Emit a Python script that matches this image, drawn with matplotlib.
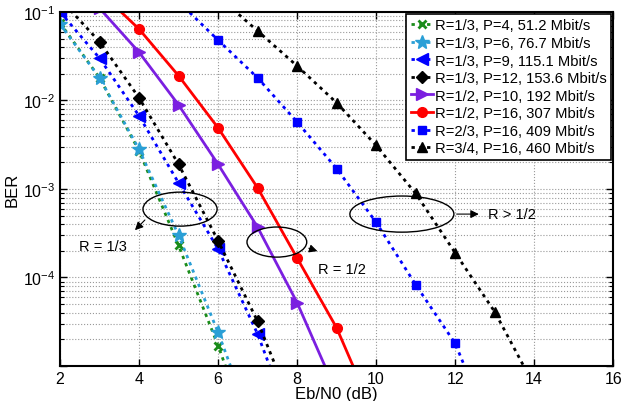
import matplotlib
matplotlib.use('Agg')
import matplotlib.pyplot as plt
from matplotlib.patches import Ellipse
from matplotlib.ticker import LogLocator, NullFormatter, FixedFormatter

plt.rcParams['font.family'] = ['Liberation Sans', 'DejaVu Sans']
plt.rcParams['mathtext.fontset'] = 'custom'
plt.rcParams['mathtext.rm'] = 'Liberation Sans'

# Eb/N0 (dB) and BER for every curve
x_p4 = [2, 3, 4, 5, 6, 7]
ber_p4 = [7.5e-2, 1.8e-2, 2.7e-3, 2.3e-4, 1.7e-5, 1.0e-6]
x_p6 = [2, 3, 4, 5, 6, 7]
ber_p6 = [7.3e-2, 1.8e-2, 2.8e-3, 3.0e-4, 2.4e-5, 1.5e-6]
x_p9 = [2, 3, 4, 5, 6, 7, 8]
ber_p9 = [1.0e-1, 3.0e-2, 6.7e-3, 1.17e-3, 2.1e-4, 2.3e-5, 1.5e-6]
x_p12 = [2, 3, 4, 5, 6, 7, 8]
ber_p12 = [1.4e-1, 4.6e-2, 1.07e-2, 1.9e-3, 2.6e-4, 3.2e-5, 2.5e-6]
x_p10 = [3, 4, 5, 6, 7, 8, 9]
ber_p10 = [1.1e-1, 3.5e-2, 8.9e-3, 1.9e-3, 3.7e-4, 5.2e-5, 5.0e-6]
x_p16a = [3, 4, 5, 6, 7, 8, 9, 10]
ber_p16a = [1.7e-1, 6.4e-2, 1.9e-2, 4.9e-3, 1.03e-3, 1.66e-4, 2.7e-5, 2.5e-6]
x_p16b = [5, 6, 7, 8, 9, 10, 11, 12, 13]
ber_p16b = [1.3e-1, 4.8e-2, 1.8e-2, 5.7e-3, 1.7e-3, 4.2e-4, 8.3e-5, 1.8e-5, 1.5e-6]
x_p16c = [6, 7, 8, 9, 10, 11, 12, 13, 14]
ber_p16c = [1.5e-1, 6.1e-2, 2.45e-2, 9.4e-3, 3.1e-3, 8.9e-4, 1.9e-4, 4.1e-5, 6.0e-6]

labels = ['R=1/3, P=4, 51.2 Mbit/s', 'R=1/3, P=6, 76.7 Mbit/s',
          'R=1/3, P=9, 115.1 Mbit/s', 'R=1/3, P=12, 153.6 Mbit/s',
          'R=1/2, P=10, 192 Mbit/s', 'R=1/2, P=16, 307 Mbit/s',
          'R=2/3, P=16, 409 Mbit/s', 'R=3/4, P=16, 460 Mbit/s']

fig = plt.figure(figsize=(6.23, 4.02), dpi=100)
ax = fig.add_axes([0.0963, 0.087, 0.888, 0.881])

lw = 2
dots = (0, (1.2, 1.6))
ax.semilogy(x_p4, ber_p4, linestyle=dots, color='#1a8c1a', marker='x', ms=6, mew=2, lw=lw, label=labels[0])
ax.semilogy(x_p6, ber_p6, linestyle=dots, color='#2a9fd6', marker='*', ms=10, lw=lw, label=labels[1])
ax.semilogy(x_p9, ber_p9, linestyle=dots, color='#0000ff', marker='<', ms=8, lw=lw, label=labels[2])
ax.semilogy(x_p12, ber_p12, linestyle=dots, color='black', marker='D', ms=6, lw=lw, label=labels[3])
ax.semilogy(x_p10, ber_p10, '-', color='#7b1fe0', marker='>', ms=8, lw=lw, label=labels[4])
ax.semilogy(x_p16a, ber_p16a, '-', color='#ff0000', marker='o', ms=7, lw=lw, label=labels[5])
ax.semilogy(x_p16b, ber_p16b, linestyle=dots, color='#0000ff', marker='s', ms=6, lw=lw, label=labels[6])
ax.semilogy(x_p16c, ber_p16c, linestyle=dots, color='black', marker='^', ms=7, lw=lw, label=labels[7])

ax.set_xlim(2, 16)
ax.set_ylim(1e-5, 1e-1)
ax.set_xticks([2, 4, 6, 8, 10, 12, 14, 16])
ax.set_yticks([1e-5, 1e-4, 1e-3, 1e-2, 1e-1])
ax.yaxis.set_major_formatter(FixedFormatter(['', r'$10^{-4}$', r'$10^{-3}$',
                                             r'$10^{-2}$', r'$10^{-1}$']))
ax.yaxis.set_minor_locator(LogLocator(base=10, subs=range(2, 10), numticks=10))
ax.yaxis.set_minor_formatter(NullFormatter())
ax.grid(True, which='major', linestyle=':', color='#999999', lw=0.8)
ax.grid(True, which='minor', axis='y', linestyle=':', color='#999999', lw=0.8)
ax.tick_params(which='both', direction='in', top=True, right=True, labelsize=11.5)
ax.tick_params(which='major', length=5, width=1)
ax.tick_params(which='minor', length=3, width=0.8)
for s in ax.spines.values():
    s.set_linewidth(1.5)

ax.set_xlabel('Eb/N0 (dB)', fontsize=12, labelpad=0)
ax.set_ylabel('BER', fontsize=12, labelpad=2)

leg = ax.legend(loc='upper right', fontsize=10.6, handlelength=1.5, handletextpad=0.15,
                borderpad=0.3, labelspacing=0.24, borderaxespad=0.15,
                fancybox=False, framealpha=1)
leg.get_frame().set_edgecolor('black')
leg.get_frame().set_linewidth(1.2)

# ellipses and arrows marking the rate groups
for cx, cy, w, h in [(0.217, 0.443, 0.134, 0.096), (0.392, 0.350, 0.108, 0.085),
                     (0.618, 0.429, 0.188, 0.102)]:
    ax.add_patch(Ellipse((cx, cy), w, h, transform=ax.transAxes, fill=False,
                         edgecolor='black', lw=1, zorder=5))

arrow = dict(arrowstyle='-|>', color='black', lw=0.8, mutation_scale=12)
ax.annotate('', xy=(0.132, 0.378), xytext=(0.157, 0.418), xycoords='axes fraction',
            arrowprops=arrow)
ax.annotate('', xy=(0.47, 0.322), xytext=(0.445, 0.335), xycoords='axes fraction',
            arrowprops=arrow)
ax.annotate('', xy=(0.762, 0.429), xytext=(0.712, 0.429), xycoords='axes fraction',
            arrowprops=arrow)
ax.text(0.035, 0.338, 'R = 1/3', transform=ax.transAxes, fontsize=10.5, va='center')
ax.text(0.467, 0.275, 'R = 1/2', transform=ax.transAxes, fontsize=10.5, va='center')
ax.text(0.773, 0.429, 'R > 1/2', transform=ax.transAxes, fontsize=10.5, va='center')

plt.savefig('out.png', dpi=100)
